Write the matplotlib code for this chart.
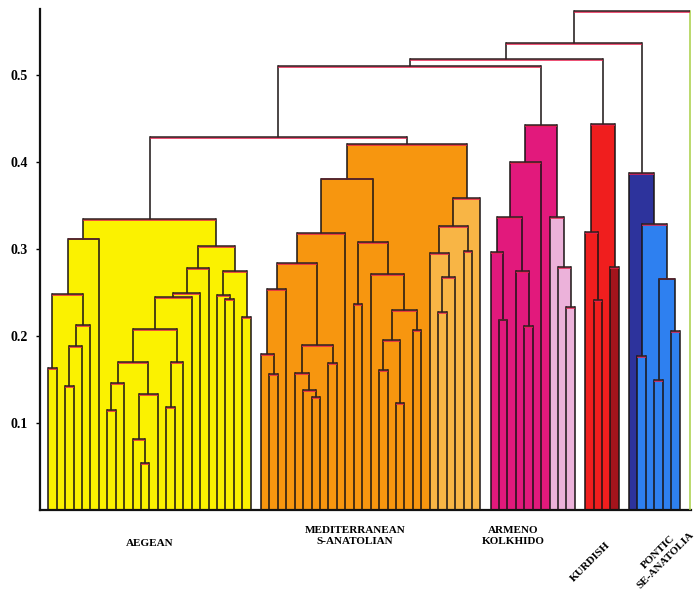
import matplotlib
matplotlib.use('Agg')
import matplotlib.pyplot as plt
import matplotlib.patheffects as pe

# hoja del dendrograma
o = None

# colores de grupos
yellow = '#fbf200'
orange = '#f7960f'
light_orange = '#f8b545'
magenta = '#e2197c'
light_pink = '#ecb2da'
red = '#f01e1e'
dark_red = '#a3141c'
dark_blue = '#2d339c'
light_blue = '#2e80f0'
line_col = '#1a1414'
edge_red = '#e8204e'
outgroup_col = '#a8cf45'

# nodos: (izquierda, derecha, altura[, color])
aeg_left = (((o, o, 0.163), (((o, o, 0.142), o, 0.188), o, 0.213), 0.248), o, 0.312)
aeg_a = (((o, o, 0.115), o, 0.146), ((o, (o, o, 0.054), 0.082), o, 0.133), 0.170)
aeg_b = ((o, o, 0.118), o, 0.170)
aeg_e = ((((aeg_a, aeg_b, 0.208), o, 0.245), o, 0.249), o, 0.278)
aeg_g = ((o, (o, o, 0.2425), 0.247), (o, o, 0.222), 0.275)
aegean = (aeg_left, (aeg_e, aeg_g, 0.303), 0.334)

med_a = ((o, (o, o, 0.156), 0.179), o, 0.254)
med_b = ((o, (o, (o, o, 0.130), 0.138), 0.157), (o, o, 0.169), 0.190)
med_c = ((med_a, med_b, 0.284), o, 0.318)
med_d = ((o, o, 0.237), (o, (((o, o, 0.161), (o, o, 0.123), 0.195), (o, o, 0.207), 0.230), 0.271), 0.308)
med_light = (((o, ((o, o, 0.228), o, 0.268), 0.295), (o, o, 0.298), 0.326), o, 0.359, light_orange)
mediterranean = ((med_c, med_d, 0.381), med_light, 0.421)

arm_main = (((o, (o, o, 0.219), 0.297), (o, (o, o, 0.211), 0.275), 0.337), o, 0.400)
arm_light = (o, (o, (o, o, 0.233), 0.279), 0.337, light_pink)
armeno = (arm_main, arm_light, 0.443)

kurdish = ((o, (o, o, 0.241), 0.320), (o, o, 0.279, dark_red), 0.444)

pontic = (o, ((o, o, 0.177), ((o, o, 0.149), (o, o, 0.206), 0.266), 0.329, light_blue), 0.387)

clusters = [aegean, mediterranean, armeno, kurdish, pontic]
cluster_colors = [yellow, orange, magenta, red, dark_blue]
cluster_names = ['AEGEAN', 'MEDITERRANEAN\nS-ANATOLIAN', 'ARMENO\nKOLKHIDO', 'KURDISH',
                 'PONTIC\nSE-ANATOLIA']
# alturas de union entre grupos (la ultima con el grupo externo)
join_heights = [0.429, 0.510, 0.518, 0.537, 0.5735]

label_shift = [0.0, -1.85, -2.3, -1.4, 0.9]
label_drop = [33, 26, 26, 52, 46]       # px bajo la base
label_rot = [0, 0, 0, 45, 45]

gap = 0.2
gap_out = 0.25


def build(node, color, out, cur):
    if node is None:
        x = cur[0]
        cur[0] += 1
        return x, 0.0
    if len(node) == 4:
        color = node[3]
    xl, yl = build(node[0], color, out, cur)
    xr, yr = build(node[1], color, out, cur)
    out.append((xl, yl, xr, yr, node[2], color))
    return (xl + xr) / 2, node[2]


nodes = []
joins = []
centers = []
cur = [0.0]
cx, cy = None, None
for k, tree in enumerate(clusters):
    if k > 0:
        cur[0] += gap
    start = cur[0]
    x, y = build(tree, cluster_colors[k], nodes, cur)
    centers.append((start + cur[0] - 1) / 2)
    if cx is None:
        cx, cy = x, y
    else:
        joins.append((cx, cy, x, y, join_heights[k - 1], line_col))
        cx, cy = (cx + x) / 2, join_heights[k - 1]
cur[0] += gap_out
x_out = cur[0]
joins.append((cx, cy, x_out, 0.0, join_heights[-1], outgroup_col))

fig = plt.figure(figsize=(6.97, 5.91), dpi=100)
ax = fig.add_axes([40 / 697, 1 - 510 / 591, 651 / 697, 501 / 591])

# rellenos
for xl, yl, xr, yr, h, c in sorted(nodes, key=lambda n: -n[4]):
    ax.bar((xl + xr) / 2, h, width=xr - xl, color=c, linewidth=0, zorder=1)

shadow = [pe.SimpleLineShadow(offset=(0, -0.6), shadow_color=edge_red, alpha=1, rho=1), pe.Normal()]
for xl, yl, xr, yr, h, c in nodes + joins:
    rc = c if c == outgroup_col else line_col
    ax.plot([xl, xl], [yl, h], color=line_col, lw=1.1, zorder=3)
    ax.plot([xr, xr], [yr, h], color=rc, lw=1.1, zorder=3)
    ax.plot([xl, xr], [h, h], color='#2e2222', lw=1.1, zorder=4, path_effects=shadow,
            solid_capstyle='butt')

ax.set_xlim(-0.97, x_out + 0.1)
ax.set_ylim(0, 0.576)
for s in ['top', 'right']:
    ax.spines[s].set_visible(False)
ax.spines['left'].set_linewidth(1.6)
ax.spines['left'].set_color('#111111')
ax.spines['bottom'].set_linewidth(1.6)
ax.spines['bottom'].set_color('#111111')
ax.set_xticks([])
ax.set_yticks([0.1, 0.2, 0.3, 0.4, 0.5])
ax.set_yticklabels(['0.1', '0.2', '0.3', '0.4', '0.5'], fontfamily='Liberation Serif',
                   fontweight='bold', fontsize=10)
ax.tick_params(axis='y', length=3, width=1, pad=6)

for k, name in enumerate(cluster_names):
    ax.annotate(name, xy=(centers[k] + label_shift[k], 0), xycoords=('data', 'axes fraction'),
                xytext=(0, -label_drop[k] * 0.72), textcoords='offset points',
                ha='center', va='center', rotation=label_rot[k], rotation_mode='anchor',
                fontfamily='Liberation Serif', fontweight='bold', fontsize=8,
                linespacing=1.35, annotation_clip=False)

fig.savefig('out.png', dpi=100)
